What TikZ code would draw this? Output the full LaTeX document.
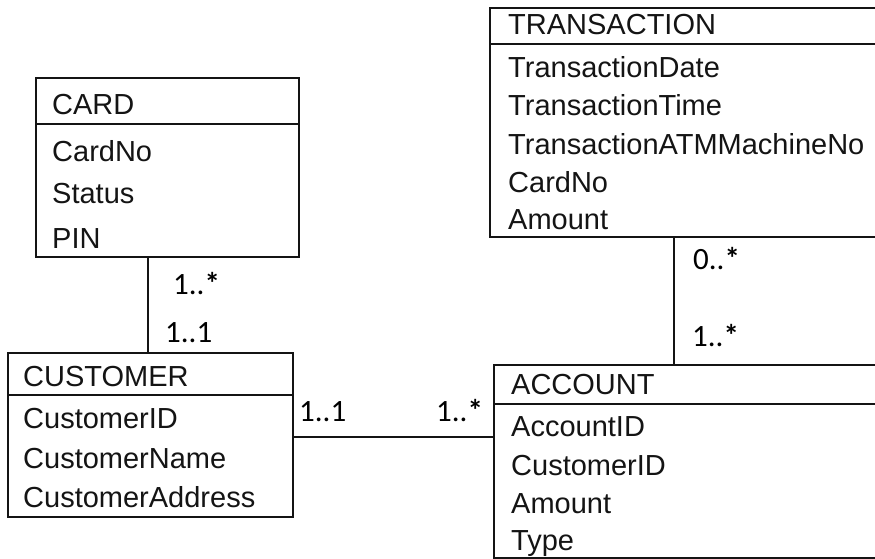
\documentclass[tikz,border=0pt]{standalone}
\usepackage{fontspec}
\setmainfont{Liberation Sans}
\newfontfamily\labfont{Carlito}
\definecolor{ink}{HTML}{141414}
\newcommand{\mstar}{\textbf{*}}
\begin{document}
\begin{tikzpicture}[x=1pt,y=-1pt,
  box/.style={draw=ink,line width=1.6pt,rectangle,inner sep=0pt,outer sep=0pt},
  attr/.style={anchor=base west,inner sep=0pt,text=ink,font=\fontsize{29}{30}\selectfont},
  mult/.style={anchor=base west,inner sep=0pt,text=black,font=\labfont\fontsize{31}{32}\selectfont},
  conn/.style={draw=ink,line width=1.6pt}]
\useasboundingbox (0,0) rectangle (875,559);
\clip (0,0) rectangle (875,559);
% CARD
\node[box,minimum width=263pt,minimum height=179pt] (card) at (167.5,167.5) {};
\draw[conn] (36,124) -- (299,124);
\node[attr] (cardT) at (52,115) {CARD};
\node[attr] (cardA1) at (52,161) {CardNo};
\node[attr] (cardA2) at (52,203) {Status};
\node[attr] (cardA3) at (52,248) {PIN};
% CUSTOMER
\node[box,minimum width=285pt,minimum height=164pt] (cust) at (150.5,435) {};
\draw[conn] (8,395) -- (293,395);
\node[attr] (custT) at (23,386) {CUSTOMER};
\node[attr] (custA1) at (23,428) {CustomerID};
\node[attr] (custA2) at (23,468) {CustomerName};
\node[attr] (custA3) at (23,507) {CustomerAddress};
% TRANSACTION
\node[box,minimum width=415pt,minimum height=229pt] (trans) at (697.5,122.5) {};
\draw[conn] (490,44) -- (905,44);
\node[attr] (transT) at (508,35) {TRANSACTION};
\node[attr] (transA1) at (508,78) {TransactionDate};
\node[attr] (transA2) at (508,116) {TransactionTime};
\node[attr] (transA3) at (508,154) {TransactionATMMachineNo};
\node[attr] (transA4) at (508,192) {CardNo};
\node[attr] (transA5) at (508,229) {Amount};
% ACCOUNT
\node[box,minimum width=411pt,minimum height=193pt] (acc) at (699.5,461.5) {};
\draw[conn] (494,404) -- (905,404);
\node[attr] (accT) at (511,394) {ACCOUNT};
\node[attr] (accA1) at (511,436) {AccountID};
\node[attr] (accA2) at (511,475) {CustomerID};
\node[attr] (accA3) at (511,513) {Amount};
\node[attr] (accA4) at (511,550) {Type};
% connectors
\coordinate (x1) at (148,0);
\coordinate (y2) at (0,437);
\coordinate (x3) at (674,0);
\draw[conn] (card.south -| x1) -- (cust.north -| x1);
\draw[conn] (cust.east |- y2) -- (acc.west |- y2);
\draw[conn] (trans.south -| x3) -- (acc.north -| x3);
% multiplicities
\node[mult] (m1) at (173,294) {1..\mstar};
\node[mult] (m2) at (165,342) {1..1};
\node[mult] (m3) at (299,421) {1..1};
\node[mult] (m4) at (436,421) {1..\mstar};
\node[mult] (m5) at (693,269) {0..\mstar};
\node[mult] (m6) at (692,346) {1..\mstar};
\end{tikzpicture}
\end{document}
